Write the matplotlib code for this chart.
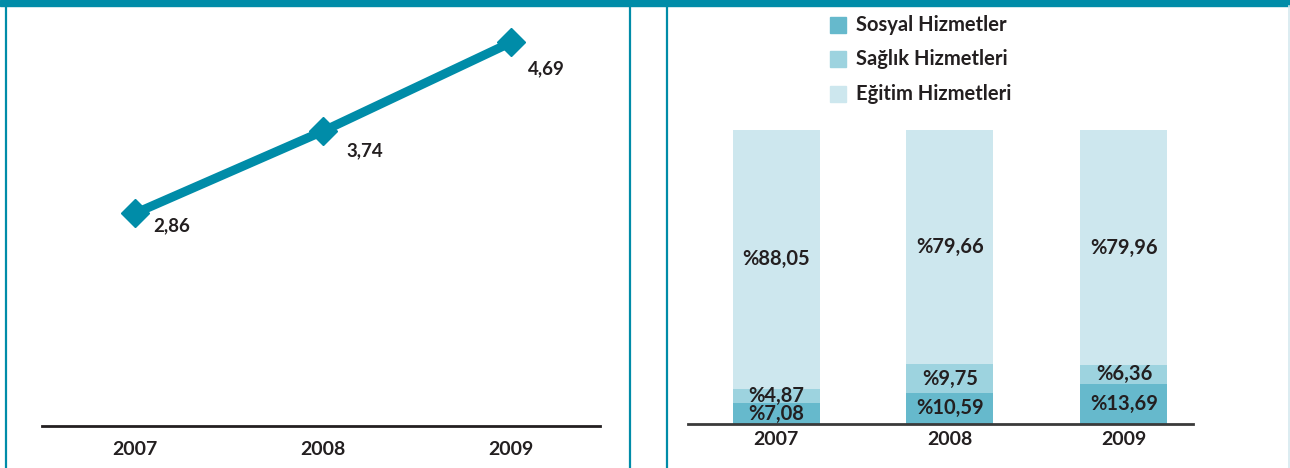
import matplotlib
matplotlib.use("Agg")
import matplotlib.pyplot as plt
from matplotlib.patches import Rectangle

plt.rcParams['font.family'] = ['Lato', 'DejaVu Sans']

# data
years = ['2007', '2008', '2009']
share_values = [2.86, 3.74, 4.69]
share_labels = ['2,86', '3,74', '4,69']

series_names = ['Sosyal Hizmetler', 'Sağlık Hizmetleri', 'Eğitim Hizmetleri']
sosyal = [7.08, 10.59, 13.69]
saglik = [4.87, 9.75, 6.36]
egitim = [88.05, 79.66, 79.96]

TEAL = '#008ca8'
TEXT = '#231f20'
BAR_COLORS = ['#66b9cc', '#9dd3df', '#cde7ee']

W, H = 1290, 468
fig = plt.figure(figsize=(W / 100, H / 100), dpi=100)


def px_axes(x0, y_top, x1, y_bottom):
    return fig.add_axes([x0 / W, 1 - y_bottom / H, (x1 - x0) / W, (y_bottom - y_top) / H])


# frame: top band and panel separators
fig.patches.append(Rectangle((0, 1 - 6 / H), 1, 6 / H, transform=fig.transFigure,
                             color=TEAL, zorder=0))
for xp in (5.5, 629.5, 666.5):
    fig.add_artist(plt.Line2D([xp / W, xp / W], [0, 1 - 6 / H], transform=fig.transFigure,
                              color=TEAL, lw=1.6))
fig.add_artist(plt.Line2D([1289 / W, 1289 / W], [0, 1 - 6 / H], transform=fig.transFigure,
                          color='#d6e9ef', lw=1.2))

# left panel: line chart
ax1 = px_axes(42, 10, 600, 426)
x = range(len(years))
ax1.plot(x, share_values, color=TEAL, lw=6.5, marker='D', ms=14,
         solid_capstyle='butt', zorder=3)
offsets = [(13, -9), (17, -14), (12, -19)]
for i, (v, lab) in enumerate(zip(share_values, share_labels)):
    ax1.annotate(lab, (i, v), xytext=offsets[i], textcoords='offset points',
                 ha='left', va='center', fontsize=13.5, fontweight='bold', color=TEXT)
ax1.set_xlim(-0.495, 2.473)
ax1.set_ylim(0.583, 5.037)
ax1.set_xticks(list(x))
ax1.set_xticklabels(years, fontsize=14, fontweight='bold', color=TEXT)
ax1.set_yticks([])
ax1.tick_params(axis='x', length=0, pad=11)
for s in ('top', 'right', 'left'):
    ax1.spines[s].set_visible(False)
ax1.spines['bottom'].set_linewidth(2)
ax1.spines['bottom'].set_color(TEXT)
ax1.patch.set_alpha(0)

# right panel: stacked percentage bars
ax2 = px_axes(688, 130, 1193, 424)
layers = [sosyal, saglik, egitim]
bottoms = [0.0] * len(years)
for vals, color in zip(layers, BAR_COLORS):
    ax2.bar(x, vals, width=0.5, bottom=bottoms, color=color, zorder=2)
    for i, v in enumerate(vals):
        ax2.text(i, bottoms[i] + v / 2, '%' + f'{v:.2f}'.replace('.', ','),
                 ha='center', va='center', fontsize=14.5, fontweight='bold',
                 color=TEXT, zorder=3)
    bottoms = [b + v for b, v in zip(bottoms, vals)]
ax2.set_xlim(-0.506, 2.397)
ax2.set_ylim(0, 100)
ax2.set_xticks(list(x))
ax2.set_xticklabels(years, fontsize=14, fontweight='bold', color=TEXT)
ax2.set_yticks([])
ax2.tick_params(axis='x', length=0, pad=5)
for s in ('top', 'right', 'left'):
    ax2.spines[s].set_visible(False)
ax2.spines['bottom'].set_linewidth(2)
ax2.spines['bottom'].set_color('#3a3a3a')
ax2.spines['bottom'].set_zorder(4)
ax2.patch.set_alpha(0)

# legend, drawn top-down
legend_y = [25, 59, 94]
for name, color, yc in zip(series_names, BAR_COLORS, legend_y):
    fig.patches.append(Rectangle((830 / W, 1 - (yc + 8) / H), 16 / W, 16 / H,
                                 transform=fig.transFigure, color=color))
    fig.text(856 / W, 1 - yc / H, name, ha='left', va='center', fontsize=14.5,
             fontweight='bold', color=TEXT)

fig.savefig('out.png', dpi=100)
